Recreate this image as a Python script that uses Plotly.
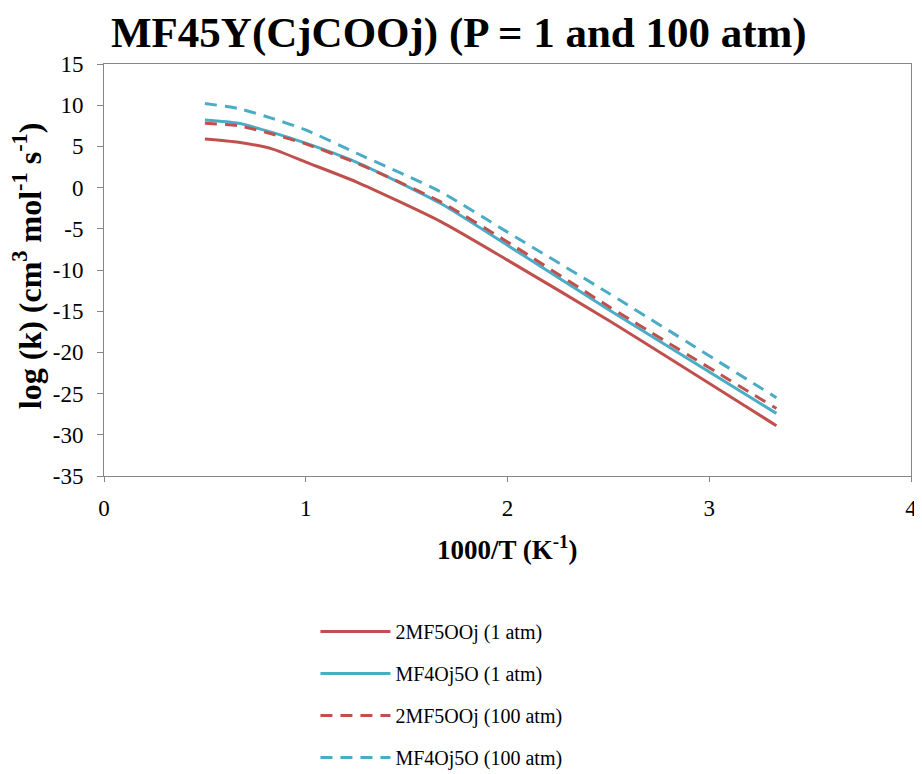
import plotly.graph_objects as go

x_vals = [0.5, 0.667, 0.833, 1.0, 1.25, 1.667, 2.0, 2.5, 3.333]

mf2_1atm = [5.9, 5.5, 4.7, 3.1, 0.7, -4.1, -8.8, -16.1, -28.9]
mf4_1atm = [8.2, 7.8, 6.7, 5.4, 3.1, -1.9, -7.0, -14.8, -27.4]
mf2_100atm = [7.8, 7.5, 6.5, 5.3, 3.0, -1.7, -6.6, -14.4, -26.8]
mf4_100atm = [10.2, 9.6, 8.4, 7.0, 4.2, -0.5, -5.4, -12.8, -25.5]

names = ["2MF5OOj (1 atm)", "MF4Oj5O (1 atm)", "2MF5OOj (100 atm)", "MF4Oj5O (100 atm)"]
series = [mf2_1atm, mf4_1atm, mf2_100atm, mf4_100atm]
colors = ["#C0504D", "#4BACC6", "#C0504D", "#4BACC6"]
dashes = ["solid", "solid", "12px,8px", "12px,8px"]

x_ticks = [0, 1, 2, 3, 4]
y_ticks = [15, 10, 5, 0, -5, -10, -15, -20, -25, -30, -35]

FONT = "Liberation Serif"

fig = go.Figure()
for i, (nm, ys, c, d) in enumerate(zip(names, series, colors, dashes)):
    fig.add_trace(go.Scatter(
        x=x_vals, y=ys, name=nm, mode="lines",
        line=dict(color=c, width=3, dash=d, shape="spline", smoothing=0.6),
        legendgroup=f"g{i}",
    ))

# page body has an 8px margin; layout compensates so the plot lands where the reference has it
H = 790
fig.update_layout(
    width=922, height=H,
    paper_bgcolor="white", plot_bgcolor="white",
    margin=dict(l=96, r=19, t=56, b=H - 56 - 412),
    font=dict(family=FONT, color="black", size=20),
    title=dict(text="<b>MF45Y(CjCOOj) (P = 1 and 100 atm)</b>",
               x=0.489, xanchor="center", y=1 - 24 / H, yanchor="middle",
               font=dict(family=FONT, size=43, color="black")),
    showlegend=True,
    legend=dict(x=0.262, xanchor="left", y=-0.3303, yanchor="top",
                orientation="v", tracegroupgap=13, itemwidth=70,
                font=dict(family=FONT, size=20, color="black"),
                bgcolor="rgba(0,0,0,0)"),
    annotations=[
        dict(text="<b>1000/T (K<sup>-1</sup>)</b>", xref="paper", yref="paper",
             x=0.5, y=-0.175, xanchor="center", yanchor="middle", showarrow=False,
             font=dict(family=FONT, size=27, color="black")),
        dict(text="<b>log (k) (cm<sup>3</sup> mol<sup>-1</sup> s<sup>-1</sup>)</b>",
             xref="paper", yref="paper", x=-0.095, y=0.51, textangle=-90,
             xanchor="center", yanchor="middle", showarrow=False,
             font=dict(family=FONT, size=32, color="black")),
    ],
)

fig.update_xaxes(
    range=[0, 4], tickvals=x_ticks, ticktext=[str(v) for v in x_ticks],
    showgrid=False, zeroline=False, automargin=False,
    showline=True, linecolor="#868686", linewidth=1, mirror=True,
    ticks="outside", ticklen=5, tickcolor="#868686", ticklabelstandoff=6,
    tickfont=dict(family=FONT, size=23, color="black"),
)
fig.update_yaxes(
    range=[-35, 15], tickvals=y_ticks, ticktext=[str(v) for v in y_ticks],
    showgrid=False, zeroline=False, automargin=False,
    showline=True, linecolor="#868686", linewidth=1, mirror=True,
    ticks="outside", ticklen=6, tickcolor="#868686", ticklabelstandoff=9,
    tickfont=dict(family=FONT, size=23, color="black"),
)

fig.write_html("out.html")
